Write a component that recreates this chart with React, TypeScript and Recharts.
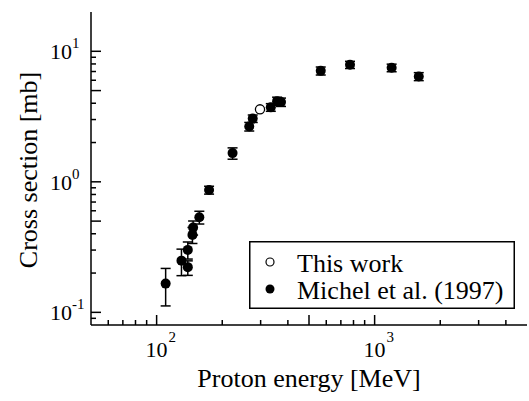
import React from 'react';
import { ScatterChart, Scatter, XAxis, YAxis, ErrorBar, Legend } from 'recharts';

// ── data ──────────────────────────────────────────────────────────────────────

const thisWorkEnergy = [298];
const thisWorkSigma = [3.59];

const michelEnergy = [110, 130, 139, 139, 146, 147, 157, 174, 223, 266, 276, 334, 357, 372, 566, 771, 1197, 1594];
const michelSigma = [0.166, 0.249, 0.222, 0.301, 0.392, 0.446, 0.535, 0.865, 1.66, 2.65, 3.05, 3.72, 4.15, 4.08, 7.08, 7.88, 7.47, 6.41];
const michelErrLow = [0.054, 0.058, 0.03, 0.045, 0.055, 0.055, 0.06, 0.06, 0.17, 0.2, 0.2, 0.25, 0.3, 0.3, 0.5, 0.5, 0.5, 0.45];
const michelErrHigh = [0.051, 0.056, 0.026, 0.045, 0.055, 0.055, 0.06, 0.06, 0.16, 0.2, 0.2, 0.25, 0.3, 0.3, 0.5, 0.5, 0.5, 0.45];

const xDomain = [50, 5000];
const yDomain = [0.08, 20];
const xTicks = [60, 70, 80, 90, 100, 200, 300, 400, 500, 600, 700, 800, 900, 1000, 2000, 3000, 4000];
const yTicks = [0.09, 0.1, 0.2, 0.3, 0.4, 0.5, 0.6, 0.7, 0.8, 0.9, 1, 2, 3, 4, 5, 6, 7, 8, 9, 10];

const thisWork = thisWorkEnergy.map((e, i) => ({ e, s: thisWorkSigma[i] }));
const michel = michelEnergy.map((e, i) => ({
  e,
  s: michelSigma[i],
  err: [michelErrLow[i], michelErrHigh[i]],
}));

// ── helpers ───────────────────────────────────────────────────────────────────

const FONT = "'Liberation Serif', 'Times New Roman', Times, 'DejaVu Serif', serif";
const txt = { fontFamily: FONT };

function isDecade(v: number) {
  const l = Math.log10(v);
  return Math.abs(l - Math.round(l)) < 1e-6;
}
const isLong = (v: number) => isDecade(v) || isDecade(v * 2);

function makeTick(side: 'bottom' | 'top' | 'left' | 'right') {
  return (props: any) => {
    const { x, y, payload } = props;
    const v = payload.value as number;
    const len = isLong(v) ? 10 : 5;
    const exp = Math.round(Math.log10(v));
    const lab = isDecade(v);
    if (side === 'bottom' || side === 'top') {
      const dir = side === 'bottom' ? -1 : 1;
      return (
        <g>
          <line x1={x} y1={y} x2={x} y2={y + dir * len} stroke="#000" strokeWidth={1.5} />
          {side === 'bottom' && lab && (
            <g fill="#000">
              <text style={txt} x={x} y={y + 32} textAnchor="middle" fontSize={22}>10</text>
              <text style={txt} x={x + 12} y={y + 17} fontSize={15}>{exp}</text>
            </g>
          )}
        </g>
      );
    }
    const dir = side === 'left' ? 1 : -1;
    return (
      <g>
        <line x1={x} y1={y} x2={x + dir * len} y2={y} stroke="#000" strokeWidth={1.5} />
        {side === 'left' && lab && (
          <g fill="#000">
            <text style={txt} x={x - 41} y={y + 8} fontSize={22}>10</text>
            <text style={txt} x={x - 19} y={y - 3} fontSize={15}>{exp < 0 ? `-${-exp}` : exp}</text>
          </g>
        )}
      </g>
    );
  };
}

const filledDot = (p: any) => <circle cx={p.cx} cy={p.cy} r={5} fill="#000" />;
const openDot = (p: any) => <circle cx={p.cx} cy={p.cy} r={4.6} fill="#fff" stroke="#000" strokeWidth={1.3} />;

function LegendBox() {
  return (
    <svg width={266} height={68} style={{ display: 'block' }}>
      <rect x={0.75} y={0.75} width={264.5} height={66.5} fill="#fff" stroke="#000" strokeWidth={1.5} />
      <circle cx={21} cy={21} r={4} fill="#fff" stroke="#000" strokeWidth={1.2} />
      <circle cx={21} cy={48} r={4.5} fill="#000" />
      <text style={txt} x={48} y={31} fontSize={26} fill="#000">This work</text>
      <text style={txt} x={48} y={58} fontSize={26} fill="#000">Michel et al. (1997)</text>
    </svg>
  );
}

const axisLine = { stroke: '#000', strokeWidth: 1.5 };

export default function App() {
  return (
    <div style={{ position: 'fixed', left: 0, top: 0, background: '#fff', fontFamily: FONT }}>
      <ScatterChart width={529} height={401} margin={{ top: 12, right: 2, bottom: 0, left: 0 }}>
        <XAxis
          type="number" dataKey="e" scale="log" domain={xDomain} ticks={xTicks}
          allowDataOverflow height={76} axisLine={axisLine} tickLine={false}
          tickSize={0} tickMargin={0} interval={0} tick={makeTick('bottom')}
          label={() => (
            <text style={txt} x={309} y={387} textAnchor="middle" fontSize={26} fill="#000">
              Proton energy [MeV]
            </text>
          )}
        />
        <XAxis
          xAxisId="top" orientation="top" type="number" dataKey="e" scale="log" domain={xDomain}
          ticks={xTicks} allowDataOverflow height={0} axisLine={axisLine} tickLine={false}
          tickSize={0} tickMargin={0} interval={0} tick={makeTick('top')}
        />
        <YAxis
          type="number" dataKey="s" scale="log" domain={yDomain} ticks={yTicks}
          allowDataOverflow width={91} axisLine={axisLine} tickLine={false}
          tickSize={0} tickMargin={0} interval={0} tick={makeTick('left')}
          label={() => (
            <text
              style={txt} x={37} y={170} textAnchor="middle" fontSize={26} fill="#000"
              transform="rotate(-90 37 170)"
            >
              Cross section [mb]
            </text>
          )}
        />
        <YAxis
          yAxisId="right" orientation="right" type="number" dataKey="s" scale="log" domain={yDomain}
          ticks={yTicks} allowDataOverflow width={0} axisLine={axisLine} tickLine={false}
          tickSize={0} tickMargin={0} interval={0} tick={makeTick('right')}
        />
        <Scatter data={michel} shape={filledDot} isAnimationActive={false}>
          <ErrorBar dataKey="err" direction="y" width={5} stroke="#000" strokeWidth={1.5} />
        </Scatter>
        <Scatter data={thisWork} shape={openDot} isAnimationActive={false} />
        <Legend
          layout="vertical" align="center" verticalAlign="middle"
          wrapperStyle={{ left: 249, top: 241, width: 266, height: 68 }}
          content={() => <LegendBox />}
        />
      </ScatterChart>
    </div>
  );
}
